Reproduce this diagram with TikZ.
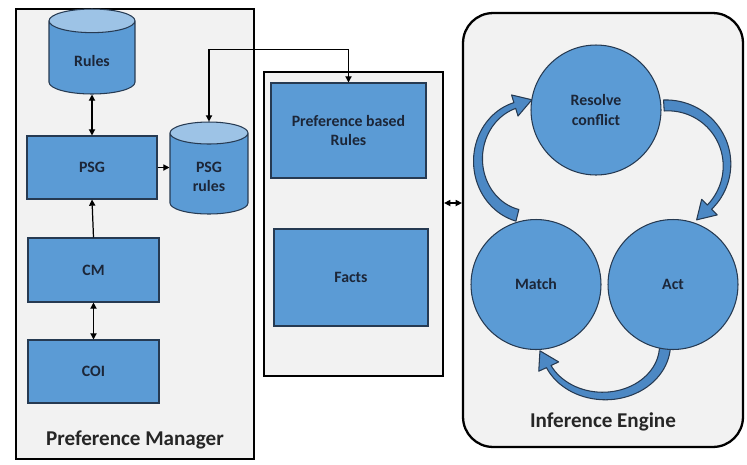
\documentclass[tikz,border=0pt]{standalone}
\usepackage{fontspec}
\setmainfont{Carlito}
\usepackage{tikz}
\usetikzlibrary{shapes.geometric, arrows.meta, positioning}
\definecolor{boxblue}{RGB}{91,155,213}
\definecolor{topblue}{RGB}{157,195,230}
\definecolor{loopblue}{RGB}{76,136,196}
\definecolor{edgeblue}{RGB}{38,58,82}
\definecolor{panelgray}{RGB}{242,242,242}
\definecolor{inktext}{RGB}{28,38,56}

% curved block arrow: centre, radii, start angle, head angle, tail width, neck width
\newcommand{\cyclearrow}[8]{%
  \pgfmathsetmacro{\tanx}{-(#3)*sin(#6)}%
  \pgfmathsetmacro{\tany}{(#4)*cos(#6)}%
  \pgfmathsetmacro{\tanlen}{veclen(\tanx,\tany)}%
  \pgfmathsetmacro{\tipx}{(#1)+(#3)*cos(#6)+18*\tanx/\tanlen}%
  \pgfmathsetmacro{\tipy}{(#2)+(#4)*sin(#6)+18*\tany/\tanlen}%
  \filldraw[cyclearr]
    plot[domain=0:1, samples=40] ({(#1)+((#3)+((#7)+((#8)-(#7))*\x)/2)*cos((#5)+((#6)-(#5))*\x)}, {(#2)+((#4)+((#7)+((#8)-(#7))*\x)/2)*sin((#5)+((#6)-(#5))*\x)})
    -- ({(#1)+((#3)+11)*cos(#6)}, {(#2)+((#4)+11)*sin(#6)})
    -- (\tipx,\tipy)
    -- ({(#1)+((#3)-11)*cos(#6)}, {(#2)+((#4)-11)*sin(#6)})
    -- plot[domain=0:1, samples=40] ({(#1)+((#3)-((#7)+((#8)-(#7))*(1-\x))/2)*cos((#5)+((#6)-(#5))*(1-\x))}, {(#2)+((#4)-((#7)+((#8)-(#7))*(1-\x))/2)*sin((#5)+((#6)-(#5))*(1-\x))})
    -- cycle;
}

\begin{document}
\begin{tikzpicture}[
    x=0.02cm, y=-0.02cm,
    panel/.style={rectangle, draw=black, line width=1.3pt, fill=panelgray, inner sep=0pt},
    block/.style={rectangle, draw=edgeblue, fill=boxblue, line width=0.6pt, font=\small\bfseries, text=inktext, align=center},
    store/.style={cylinder, shape border rotate=90, aspect=0.5, anchor=shape center, cylinder uses custom fill, cylinder body fill=boxblue, cylinder end fill=topblue, draw=edgeblue, line width=0.6pt, font=\small\bfseries, text=inktext, align=center},
    stage/.style={circle, draw=edgeblue, fill=boxblue, line width=0.6pt, minimum size=2.6cm, font=\small\bfseries, text=inktext, align=center},
    title/.style={font=\large\bfseries, text=black!85},
    link/.style={line width=0.7pt, >={Triangle[length=3.5pt, width=3.5pt]}},
    cyclearr/.style={fill=loopblue, draw=edgeblue, line width=0.6pt, line join=round}
]
    \useasboundingbox (0,0) rectangle (747,464);

    % Panels
    \node[panel, minimum width=4.76cm, minimum height=9cm] (pm) at (135,234) {};
    \node[panel, minimum width=3.58cm, minimum height=6.08cm] (kb) at (353.5,224) {};
    \node[panel, rounded corners=0.6cm, minimum width=5.6cm, minimum height=8.68cm] (ie) at (603,230) {};
    \node[title] (pmtitle) at (135,440) {Preference Manager};
    \node[title] (ietitle) at (603,422) {Inference Engine};

    % Preference manager
    \node[store, minimum width=1.72cm, minimum height=1.7cm] (rules) at (92,51.5) {Rules};
    \node[block, minimum width=2.6cm, minimum height=1.26cm] (psg) at (92,167.5) {PSG};
    \node[store, minimum width=1.56cm, minimum height=1.84cm] (psgrules) at (209,168) {PSG\\rules};
    \node[block, minimum width=2.62cm, minimum height=1.28cm] (cm) at (93.5,270) {CM};
    \node[block, minimum width=2.62cm, minimum height=1.26cm] (coi) at (93.5,371.5) {COI};

    % Working memory
    \node[block, minimum width=3.1cm, minimum height=1.9cm] (prefrules) at (348.5,130.5) {Preference based\\Rules};
    \node[block, minimum width=3.08cm, minimum height=1.94cm] (facts) at (351,277.5) {Facts};

    % Recognise-act cycle
    \cyclearrow{530}{160}{52}{57}{104}{253}{12}{6}
    \cyclearrow{667}{165}{60}{59.6}{-93}{45}{11}{6}
    \cyclearrow{604}{345}{61}{51}{2}{155}{11}{5}
    \node[stage] (resolve) at (596,110) {Resolve\\conflict};
    \node[stage] (match) at (536,284.5) {Match};
    \node[stage] (act) at (673,284.5) {Act};

    % Connectors
    \draw[link, <->] (rules.south) -- (psg.north);
    \draw[link, ->] (cm.north) -- (psg.south);
    \draw[link, <->] (cm.south) -- (coi.north);
    \draw[link, ->] (psg.east) -- (psg.east -| psgrules.west);
    \draw[link, <->] (psgrules.north) -- ++(0,-72) -| (prefrules.north);
    \coordinate (kbport) at ([yshift=0.42cm]kb.east);
    \draw[link, <->] (kbport) -- (kbport -| ie.west);
\end{tikzpicture}
\end{document}
